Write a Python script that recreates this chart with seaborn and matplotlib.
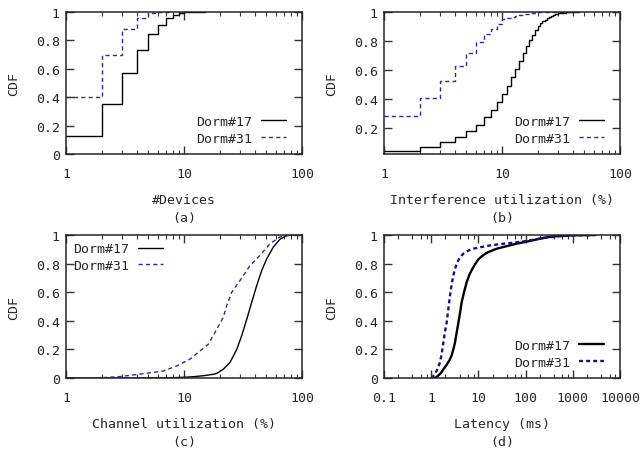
import numpy as np
import pandas as pd
import matplotlib
matplotlib.use("Agg")
import matplotlib.pyplot as plt
import seaborn as sns
from matplotlib.ticker import FixedLocator, FixedFormatter, NullLocator, LogLocator

# ---------------- data ----------------
series_names = ["Dorm#17", "Dorm#31"]

# (a) number of devices
a_x17 = [1, 2, 3, 4, 5, 6, 7, 8, 9, 10, 12, 15]
a_y17 = [0.127, 0.352, 0.568, 0.735, 0.845, 0.911, 0.956, 0.979, 0.995, 1.0, 1.0, 1.0]
a_x31 = [1, 2, 3, 4, 5, 6, 7, 8]
a_y31 = [0.404, 0.70, 0.878, 0.958, 0.995, 1.0, 1.0, 1.0]

# (b) interference utilization (%)
b_x17 = list(range(1, 31)) + [32, 35, 40, 45]
b_y17 = [0.043, 0.067, 0.101, 0.136, 0.179, 0.223, 0.274, 0.324, 0.377, 0.434,
         0.492, 0.55, 0.607, 0.662, 0.715, 0.763, 0.809, 0.843, 0.876, 0.906,
         0.922, 0.935, 0.947, 0.957, 0.966, 0.973, 0.979, 0.984, 0.988, 0.991,
         0.994, 0.997, 0.999, 1.0]
b_x31 = list(range(1, 21)) + [25, 30, 40]
b_y31 = [0.281, 0.409, 0.524, 0.628, 0.72, 0.793, 0.848, 0.883, 0.917, 0.952,
         0.96, 0.967, 0.975, 0.98, 0.985, 0.989, 0.992, 0.994, 0.996, 0.997,
         0.999, 1.0, 1.0]

# (c) channel utilization (%)
c_x17 = [1, 3, 5, 7, 8, 10, 12, 15, 18, 19, 21.5, 24.5, 28, 30.8, 34, 37.5, 41.3,
         45.5, 50.2, 57.2, 65, 74, 80, 90]
c_y17 = [0, 0, 0.0005, 0.001, 0.002, 0.005, 0.009, 0.017, 0.027, 0.033, 0.061,
         0.108, 0.2, 0.295, 0.41, 0.53, 0.646, 0.75, 0.833, 0.916, 0.97, 0.995,
         1.0, 1.0]
c_x31 = [1, 2, 2.87, 4.83, 6.68, 8.67, 11.2, 13.7, 16.1, 18.3, 21.5, 23, 25.4,
         29.8, 36.3, 44, 53.6, 65, 80, 90]
c_y31 = [0, 0.002, 0.01, 0.033, 0.049, 0.084, 0.131, 0.19, 0.237, 0.319, 0.424,
         0.506, 0.6, 0.681, 0.787, 0.857, 0.939, 0.986, 1.0, 1.0]

# (d) latency (ms)
d_x17 = [1.2, 1.3, 1.4, 1.5, 1.65, 1.81, 2.0, 2.2, 2.45, 2.72, 3.0, 3.2, 3.35,
         3.6, 3.88, 4.15, 4.42, 5.0, 5.65, 6.5, 7.4, 8.47, 10, 12, 15, 20, 25,
         33.7, 50, 70, 105, 150, 202, 300, 500, 1000, 3000]
d_y17 = [0, 0.008, 0.016, 0.025, 0.04, 0.061, 0.08, 0.1, 0.125, 0.16, 0.21,
         0.25, 0.29, 0.35, 0.412, 0.47, 0.529, 0.605, 0.67, 0.725, 0.762, 0.795,
         0.83, 0.853, 0.875, 0.893, 0.905, 0.916, 0.93, 0.942, 0.953, 0.965,
         0.974, 0.985, 0.993, 0.998, 1.0]
d_x31 = [1.0, 1.05, 1.1, 1.2, 1.3, 1.4, 1.53, 1.65, 1.81, 1.95, 2.13, 2.3, 2.5,
         2.7, 2.94, 3.2, 3.58, 4.1, 4.79, 6, 7.8, 10, 17.6, 30, 55, 105, 200,
         300, 500, 1000, 3000]
d_y31 = [0, 0.005, 0.012, 0.03, 0.05, 0.075, 0.108, 0.16, 0.248, 0.32, 0.389,
         0.48, 0.576, 0.65, 0.716, 0.765, 0.81, 0.845, 0.869, 0.89, 0.904, 0.912,
         0.927, 0.937, 0.946, 0.958, 0.975, 0.984, 0.991, 0.997, 1.0]

xlabels = ["#Devices\n(a)", "Interference utilization (%)\n(b)",
           "Channel utilization (%)\n(c)", "Latency (ms)\n(d)"]
y_ticks_full = [0, 0.2, 0.4, 0.6, 0.8, 1]
y_labels_full = ["0", "0.2", "0.4", "0.6", "0.8", "1"]
y_ticks_b = [0.2, 0.4, 0.6, 0.8, 1]
y_labels_b = ["0.2", "0.4", "0.6", "0.8", "1"]
x_ticks_abc = [1, 10, 100]
x_labels_abc = ["1", "10", "100"]
x_ticks_d = [0.1, 1, 10, 100, 1000, 10000]
x_labels_d = ["0.1", "1", "10", "100", "1000", "10000"]

# ---------------- style ----------------
sns.set_style("ticks")
plt.rcParams["font.family"] = ["DejaVu Sans Mono", "DejaVu Sans"]
plt.rcParams["font.size"] = 9.5
plt.rcParams["axes.linewidth"] = 1.1

W, H = 644, 452
fig = plt.figure(figsize=(W / 100, H / 100), dpi=100)

def add_axes(l, t, r, b):
    return fig.add_axes([l / W, 1 - b / H, (r - l) / W, (b - t) / H])

ax_a = add_axes(66, 13, 302, 155)
ax_b = add_axes(384, 13, 620, 155)
ax_c = add_axes(66, 236, 302, 379)
ax_d = add_axes(384, 236, 620, 379)

solid_col = "#000000"
dash_col = "#2a2aa3"

def draw(ax, x17, y17, x31, y31, steps, lw, dcol, dashes):
    kw = dict(drawstyle="steps-post") if steps else {}
    sns.lineplot(x=x17, y=y17, ax=ax, color=solid_col, lw=lw, estimator=None,
                 sort=False, label=series_names[0], **kw)
    sns.lineplot(x=x31, y=y31, ax=ax, color=dcol, lw=lw, estimator=None,
                 sort=False, label=series_names[1], **kw)
    ax.lines[-1].set_dashes(dashes)

draw(ax_a, a_x17, a_y17, a_x31, a_y31, True, 1.0, dash_col, (3.0, 2.3))
draw(ax_b, b_x17, b_y17, b_x31, b_y31, True, 1.0, dash_col, (3.0, 2.3))
draw(ax_c, c_x17, c_y17, c_x31, c_y31, False, 1.0, dash_col, (3.0, 2.3))
draw(ax_d, d_x17, d_y17, d_x31, d_y31, False, 1.7, "#12128c", (1.7, 1.3))

for ax, xl in zip([ax_a, ax_b, ax_c, ax_d], xlabels):
    ax.set_xscale("log")
    if ax is ax_d:
        ax.set_xlim(0.1, 10000)
        ax.xaxis.set_major_locator(FixedLocator(x_ticks_d))
        ax.xaxis.set_major_formatter(FixedFormatter(x_labels_d))
        ax.xaxis.set_minor_locator(LogLocator(base=10, subs=[2, 4, 6, 8], numticks=20))
    else:
        ax.set_xlim(1, 100)
        ax.xaxis.set_major_locator(FixedLocator(x_ticks_abc))
        ax.xaxis.set_major_formatter(FixedFormatter(x_labels_abc))
        ax.xaxis.set_minor_locator(LogLocator(base=10, subs=np.arange(2, 10), numticks=20))
    if ax is ax_b:
        ax.set_ylim(0.021, 1)
        ax.yaxis.set_major_locator(FixedLocator(y_ticks_b))
        ax.yaxis.set_major_formatter(FixedFormatter(y_labels_b))
    else:
        ax.set_ylim(0, 1)
        ax.yaxis.set_major_locator(FixedLocator(y_ticks_full))
        ax.yaxis.set_major_formatter(FixedFormatter(y_labels_full))
    ax.yaxis.set_minor_locator(NullLocator())
    ax.tick_params(axis="both", which="major", direction="in", length=5.5, width=1.0,
                   top=True, right=True, labelsize=9.5, color="#333333")
    ax.tick_params(axis="both", which="minor", direction="in", length=3, width=0.8,
                   top=True, right=True, color="#333333")
    ax.tick_params(axis="x", which="major", pad=9.5)
    ax.tick_params(axis="y", which="major", pad=4.5)
    ax.set_xlabel(xl, labelpad=9.5, linespacing=1.45)
    ax.set_ylabel("CDF", labelpad=11)
    for s in ax.spines.values():
        s.set_visible(True)
        s.set_linewidth(1.1)

leg_kw = dict(frameon=False, markerfirst=False, handlelength=1.9,
              handletextpad=0.7, labelspacing=0.3, borderpad=0, borderaxespad=0,
              fontsize=9.5)
ax_a.legend(loc="lower right", bbox_to_anchor=(0.932, 0.065), **leg_kw)
ax_b.legend(loc="lower right", bbox_to_anchor=(0.932, 0.065), **leg_kw)
ax_c.legend(loc="upper left", bbox_to_anchor=(0.03, 0.95), **leg_kw)
ax_d.legend(loc="lower right", bbox_to_anchor=(0.932, 0.065), **leg_kw)

fig.savefig("out.png", dpi=100)
